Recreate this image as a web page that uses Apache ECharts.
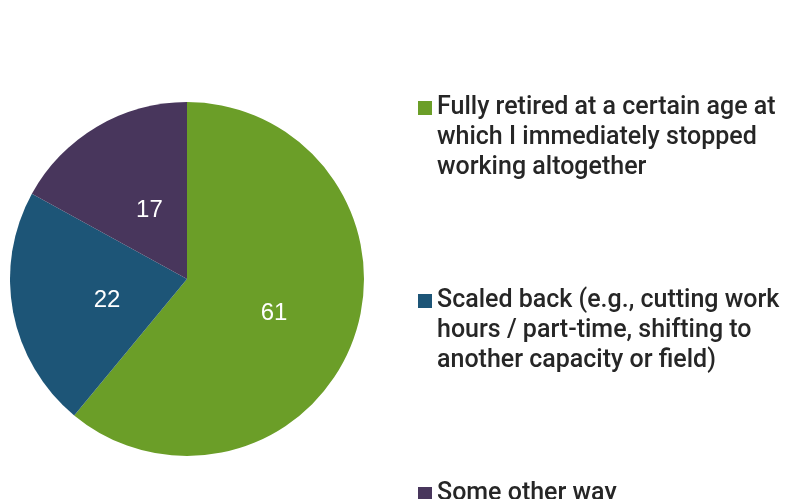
<!DOCTYPE html>
<html>
<head>
<meta charset="utf-8">
<script src="https://cdn.jsdelivr.net/npm/echarts@6/dist/echarts.min.js"></script>
<style>
  html, body { margin: 0; padding: 0; background: #ffffff; }
  #chart { width: 785px; height: 499px; }
</style>
</head>
<body>
<div id="chart"></div>
<script>
// How people retired (percent of respondents)
const categories = [
  'Fully retired at a certain age at\nwhich I immediately stopped\nworking altogether',
  'Scaled back (e.g., cutting work\nhours / part-time, shifting to\nanother capacity or field)',
  'Some other way'
];
const values = [61, 22, 17];
const colors = ['#6b9e28', '#1d5577', '#48365c'];

// nudges that pull each value label toward the slice centre
const labelNudges = [[1, 3], [10, 4], [9, 10]];

const legendTops = [93, 286, 479];

const LINE_H = 30;
const chart = echarts.init(document.getElementById('chart'), null, { renderer: 'canvas' });

// Marker for a legend entry spanning several text lines: a 14px square level
// with the first line, plus sub-pixel corner points that set the box height.
function topSquareIcon(lines) {
  const h = lines * LINE_H;
  const y0 = LINE_H / 2 - 7;
  return 'path://M0,0L0.01,0L0,0.01Z' +
    'M0,' + y0 + 'H14V' + (y0 + 14) + 'H0Z' +
    'M14,' + h + 'L13.99,' + h + 'L14,' + (h - 0.01) + 'Z';
}

const legends = categories.map((name, i) => {
  const lines = name.split('\n').length;
  const multi = lines > 1;
  return {
    orient: 'vertical',
    left: 418,
    top: legendTops[i],
    padding: 0,
    itemWidth: 14,
    itemHeight: multi ? lines * LINE_H : 14,
    icon: multi ? topSquareIcon(lines) : 'rect',
    selectedMode: false,
    data: [name],
    textStyle: {
      fontFamily: 'Roboto, "Liberation Sans", sans-serif',
      fontSize: 25,
      fontWeight: 500,
      color: '#262626',
      lineHeight: LINE_H
    }
  };
});

chart.setOption({
  animation: false,
  color: colors,
  legend: legends,
  series: [{
    type: 'pie',
    center: [187, 279],
    radius: 177,
    startAngle: 90,
    clockwise: true,
    silent: true,
    itemStyle: { borderWidth: 0 },
    label: {
      show: true,
      position: 'inside',
      formatter: '{c}',
      color: '#ffffff',
      fontSize: 24,
      fontFamily: '"Liberation Sans", Arial, sans-serif'
    },
    labelLine: { show: false },
    data: categories.map((name, i) => ({
      name,
      value: values[i],
      label: { offset: labelNudges[i] }
    }))
  }]
});
</script>
</body>
</html>
